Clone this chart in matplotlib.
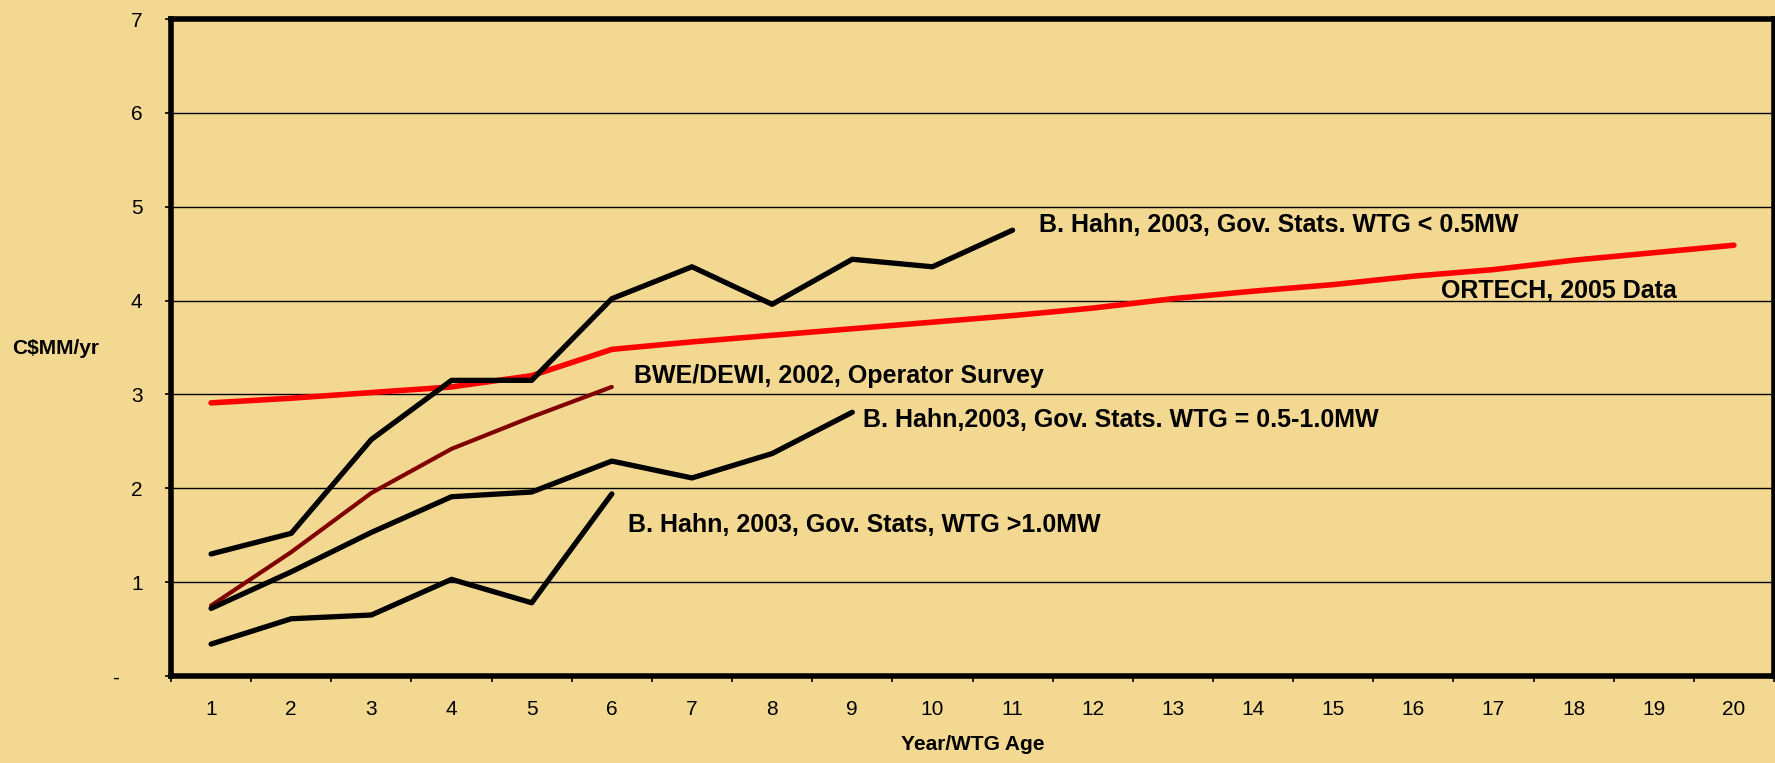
import matplotlib
matplotlib.use("Agg")
import matplotlib.pyplot as plt
import numpy as np

# ---- data ----
years = list(range(1, 21))
ortech = [2.91, 2.96, 3.02, 3.08, 3.20, 3.48, 3.56, 3.63, 3.70, 3.77,
          3.84, 3.92, 4.02, 4.10, 4.17, 4.26, 4.33, 4.43, 4.51, 4.59]
hahn_lt05 = [1.30, 1.52, 2.52, 3.15, 3.15, 4.02, 4.36, 3.96, 4.44, 4.36, 4.75]
hahn_05_10 = [0.72, 1.11, 1.53, 1.91, 1.96, 2.29, 2.11, 2.37, 2.81]
hahn_gt10 = [0.34, 0.61, 0.65, 1.03, 0.78, 1.94]
bwe_dewi = [0.75, 1.32, 1.95, 2.42, 2.76, 3.08]

labels = {
    "hahn_lt05": "B. Hahn, 2003, Gov. Stats. WTG < 0.5MW",
    "ortech": "ORTECH, 2005 Data",
    "bwe": "BWE/DEWI, 2002, Operator Survey",
    "hahn_05_10": "B. Hahn,2003, Gov. Stats. WTG = 0.5-1.0MW",
    "hahn_gt10": "B. Hahn, 2003, Gov. Stats, WTG >1.0MW",
}
yticks = [0, 1, 2, 3, 4, 5, 6, 7]
yticklabels = ["-    ", "1", "2", "3", "4", "5", "6", "7"]

BG = "#F3D892"
plt.rcParams["font.family"] = ["Liberation Sans", "DejaVu Sans"]

fig = plt.figure(figsize=(17.75, 7.63), dpi=100, facecolor=BG)
ax = fig.add_axes([171 / 1775, 1 - 676 / 763, (1774 - 171) / 1775, (676 - 19) / 763])
ax.set_facecolor(BG)

lw = 3.8
ax.plot(years, ortech, color="#FF0000", lw=4.0, solid_capstyle="round", zorder=3)
ax.plot(years[:len(bwe_dewi)], bwe_dewi, color="#800000", lw=3.0, solid_capstyle="round", zorder=3)
ax.plot(years[:len(hahn_lt05)], hahn_lt05, color="black", lw=lw, solid_capstyle="round", zorder=4)
ax.plot(years[:len(hahn_05_10)], hahn_05_10, color="black", lw=lw, solid_capstyle="round", zorder=4)
ax.plot(years[:len(hahn_gt10)], hahn_gt10, color="black", lw=lw, solid_capstyle="round", zorder=4)

tkw = dict(fontsize=18, fontweight="bold", color="black", ha="left", va="center", zorder=5)
ax.text(11.33, 4.81, labels["hahn_lt05"], **tkw)
ax.text(16.35, 4.10, labels["ortech"], **tkw)
ax.text(6.28, 3.20, labels["bwe"], **tkw)
ax.text(9.13, 2.73, labels["hahn_05_10"], **tkw)
ax.text(6.20, 1.61, labels["hahn_gt10"], **tkw)

ax.set_xlim(0.5, 20.5)
ax.set_ylim(0, 7)
ax.set_xticks(years)
ax.set_xticklabels([str(y) for y in years], fontsize=15)
ax.set_xticks(np.arange(0.5, 21, 1), minor=True)
ax.tick_params(axis="x", which="major", length=0, pad=17)
ax.tick_params(axis="x", which="minor", length=4.5, width=1.2, direction="out")
ax.set_yticks(yticks)
ax.set_yticklabels(yticklabels, fontsize=15)
ax.tick_params(axis="y", length=4.5, width=1.2, direction="out", pad=16)

for y in range(1, 7):
    ax.axhline(y, color="black", lw=1.0, zorder=1)

for s in ax.spines.values():
    s.set_linewidth(4.0)
    s.set_color("black")

ax.set_xlabel("Year/WTG Age", fontsize=15, fontweight="bold", labelpad=12)
ax.set_ylabel("C$MM/yr", fontsize=15, fontweight="bold", rotation=0, ha="center", va="center")
ax.yaxis.set_label_coords((56 - 171) / 1603, 3.49 / 7)

fig.savefig("out.png", dpi=100, facecolor=BG)
